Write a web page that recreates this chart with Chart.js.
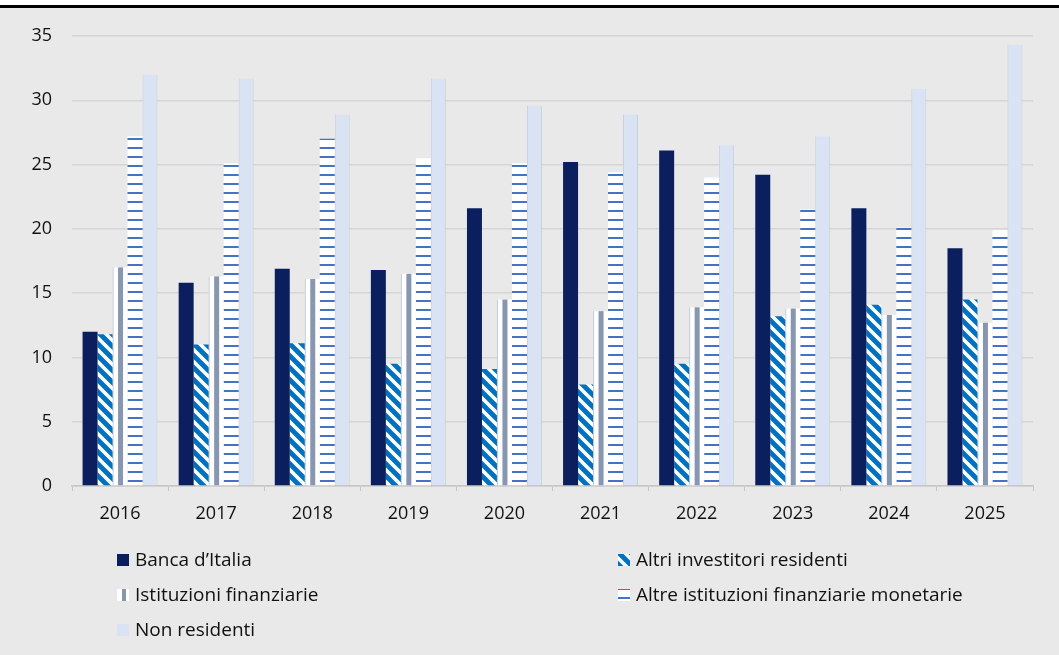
<!DOCTYPE html>
<html>
<head>
<meta charset="utf-8">
<script src="https://cdn.jsdelivr.net/npm/chart.js@4"></script>
<style>
  html, body { margin: 0; padding: 0; background: #e9e9e9; }
  #wrap { width: 1059px; height: 655px; }
</style>
</head>
<body>
<div id="wrap"><canvas id="chart" width="1059" height="655"></canvas></div>
<script>
const years = ['2016', '2017', '2018', '2019', '2020', '2021', '2022', '2023', '2024', '2025'];
const yTicks = [0, 5, 10, 15, 20, 25, 30, 35];

const bancaItalia      = [12.0, 15.8, 16.9, 16.8, 21.6, 25.2, 26.1, 24.2, 21.6, 18.5];
const altriInvestitori = [11.8, 11.0, 11.1, 9.5, 9.1, 7.9, 9.5, 13.2, 14.1, 14.5];
const istituzioniFin   = [17.0, 16.3, 16.1, 16.5, 14.5, 13.6, 13.9, 13.8, 13.3, 12.7];
const altreIFM         = [27.2, 25.1, 27.0, 25.5, 25.1, 24.4, 24.0, 21.5, 20.1, 19.9];
const nonResidenti     = [32.0, 31.7, 28.9, 31.7, 29.6, 28.9, 26.5, 27.2, 30.9, 34.3];

const seriesNames = [
    'Banca d\u2019Italia',
    'Altri investitori residenti',
    'Istituzioni finanziarie',
    'Altre istituzioni finanziarie monetarie',
    'Non residenti'
];

const NAVY = '#0b1f5e';
const BLUE = '#0070c0';
const GREY = '#8797b0';
const LINE = '#4472c4';
const PALE = '#dae3f3';
const FONT = '"Open Sans", sans-serif';

// diagonal "\" stripes, blue with white
function diagPattern() {
    const c = document.createElement('canvas');
    c.width = 12; c.height = 12;
    const g = c.getContext('2d');
    g.fillStyle = BLUE;
    g.fillRect(0, 0, 12, 12);
    g.strokeStyle = '#ffffff';
    g.lineWidth = 3.6;
    g.beginPath();
    g.moveTo(-3, -3); g.lineTo(15, 15);
    g.moveTo(-3, 9); g.lineTo(3, 15);
    g.moveTo(9, -3); g.lineTo(15, 3);
    g.stroke();
    return g.createPattern(c, 'repeat');
}

// white with thin horizontal blue lines
function hLinePattern() {
    const c = document.createElement('canvas');
    c.width = 4; c.height = 9;
    const g = c.getContext('2d');
    g.fillStyle = '#ffffff';
    g.fillRect(0, 0, 4, 9);
    g.fillStyle = LINE;
    g.fillRect(0, 3, 4, 2);
    return g.createPattern(c, 'repeat');
}

const diagFill = diagPattern();
const lineFill = hLinePattern();

// grey vertical band inside each "Istituzioni finanziarie" bar
const stripePlugin = {
    id: 'stripes',
    afterDatasetDraw(chart, args) {
        if (args.index !== 2) return;
        const ctx = chart.ctx;
        ctx.save();
        args.meta.data.forEach(el => {
            const p = el.getProps(['x', 'y', 'base', 'width'], true);
            const left = p.x - p.width / 2;
            ctx.fillStyle = '#c3c9d3';
            ctx.fillRect(left, p.y, 1, p.base - p.y);
            ctx.fillStyle = GREY;
            ctx.fillRect(p.x - 2, p.y, 5, p.base - p.y);
        });
        ctx.restore();
    }
};

// page background and the rule along the top
const backgroundPlugin = {
    id: 'pageBg',
    beforeDraw(chart) {
        const ctx = chart.ctx;
        ctx.save();
        ctx.fillStyle = '#e9e9e9';
        ctx.fillRect(0, 0, chart.width, chart.height);
        ctx.fillStyle = '#ffffff';
        ctx.fillRect(0, 0, chart.width, 5);
        ctx.fillStyle = '#000000';
        ctx.fillRect(0, 5, chart.width, 3);
        ctx.restore();
    }
};

// two-column legend under the axis
const legendPlugin = {
    id: 'gridLegend',
    afterDraw(chart, args, opts) {
        const ctx = chart.ctx;
        ctx.save();
        ctx.font = opts.font;
        ctx.textBaseline = 'middle';
        chart.data.datasets.forEach((ds, i) => {
            const col = i % 2, row = Math.floor(i / 2);
            const x = opts.columns[col];
            const y = opts.top + row * opts.rowGap;
            const s = 12;
            const bx = x, by = y - s / 2;
            if (i === 2) {
                ctx.fillStyle = '#ffffff';
                ctx.fillRect(bx, by, s, s);
                ctx.fillStyle = GREY;
                ctx.fillRect(bx + 5, by, 4, s);
            } else {
                ctx.fillStyle = ds.backgroundColor;
                ctx.fillRect(bx, by, s, s);
            }
            ctx.fillStyle = '#111111';
            ctx.fillText(ds.label, x + 18, y + 1);
        });
        ctx.restore();
    }
};

new Chart(document.getElementById('chart'), {
    type: 'bar',
    data: {
        labels: years,
        datasets: [
            { label: seriesNames[0], data: bancaItalia, backgroundColor: NAVY },
            { label: seriesNames[1], data: altriInvestitori, backgroundColor: diagFill },
            { label: seriesNames[2], data: istituzioniFin, backgroundColor: '#ffffff' },
            { label: seriesNames[3], data: altreIFM, backgroundColor: lineFill },
            {
                label: seriesNames[4], data: nonResidenti, backgroundColor: PALE,
                borderColor: '#c9ced8', borderWidth: { left: 1, right: 1, top: 0, bottom: 0 }
            }
        ]
    },
    options: {
        responsive: false,
        animation: false,
        events: [],
        categoryPercentage: 0.78,
        barPercentage: 1.0,
        layout: { padding: { top: 36, right: 26, left: 0, bottom: 124 } },
        plugins: {
            legend: { display: false },
            tooltip: { enabled: false },
            gridLegend: {
                font: '19px ' + FONT,
                columns: [117, 618],
                top: 560,
                rowGap: 35
            }
        },
        scales: {
            x: {
                grid: {
                    drawOnChartArea: false,
                    drawTicks: true,
                    tickLength: 5,
                    color: '#c6c6c6'
                },
                border: { display: true, color: '#c6c6c6', width: 1.5 },
                ticks: {
                    color: '#111111',
                    padding: 12,
                    font: { family: FONT, size: 18 }
                },
                afterFit(scale) { scale.height = 45; }
            },
            y: {
                min: 0,
                max: 35,
                afterBuildTicks(scale) { scale.ticks = yTicks.map(v => ({ value: v })); },
                grid: { drawTicks: false, color: '#d5d5d5', lineWidth: 1.5 },
                border: { display: false },
                ticks: {
                    color: '#111111',
                    padding: 20,
                    font: { family: FONT, size: 18 }
                },
                afterFit(scale) { scale.width = 72; }
            }
        }
    },
    plugins: [backgroundPlugin, stripePlugin, legendPlugin]
});
</script>
</body>
</html>
